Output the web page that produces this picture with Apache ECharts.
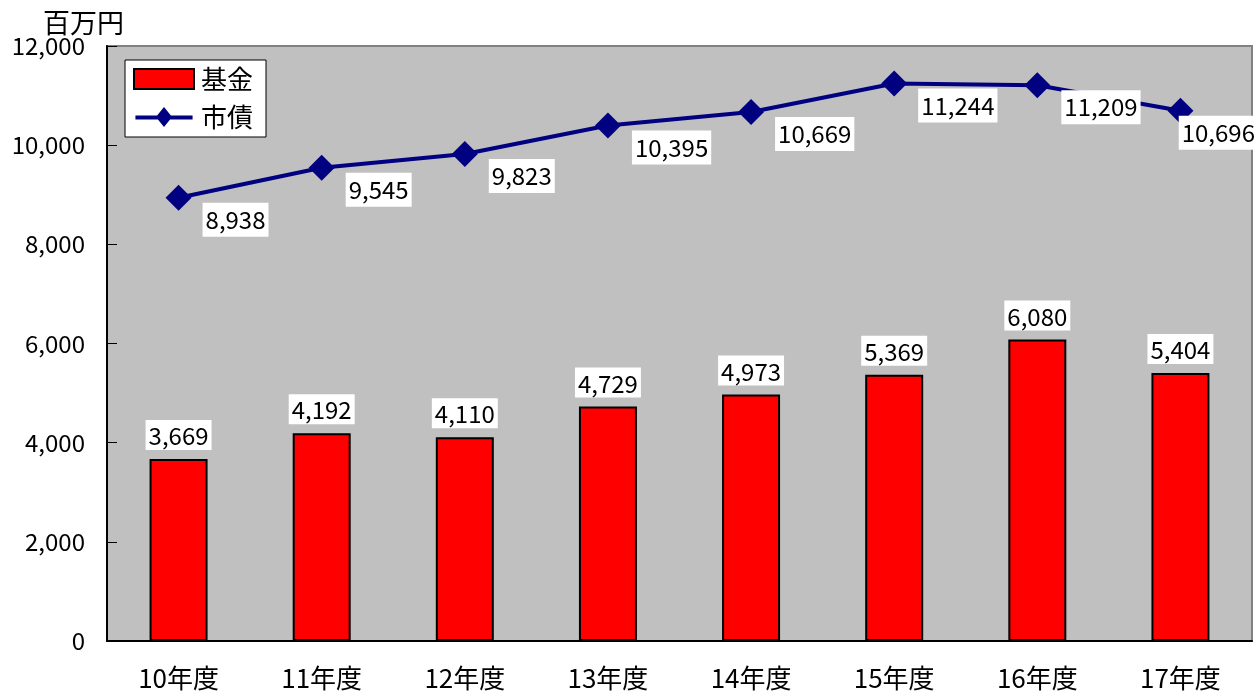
<!DOCTYPE html>
<html>
<head>
<meta charset="utf-8">
<script src="https://cdn.jsdelivr.net/npm/echarts@6/dist/echarts.min.js"></script>
<style>
  html, body { margin: 0; padding: 0; background: #fff; }
  #chart { width: 1258px; height: 692px; }
</style>
</head>
<body>
<div id="chart"></div>
<script>
// 年度別の基金残高と市債残高（単位：百万円）
const categories = ['10年度', '11年度', '12年度', '13年度', '14年度', '15年度', '16年度', '17年度'];
const fundValues = [3669, 4192, 4110, 4729, 4973, 5369, 6080, 5404];
const bondValues = [8938, 9545, 9823, 10395, 10669, 11244, 11209, 10696];
const yTicks = [0, 2000, 4000, 6000, 8000, 10000, 12000];

const FONT = '"Noto Sans CJK JP", "Noto Sans", sans-serif';
const fmt = v => v.toLocaleString('en-US');

// 凡例用アイコン：太線＋ひし形
const LINE_ICON = 'path://M0,9 L60,9 L60,13 L0,13 Z M30,0 L38.5,10.5 L30,21 L21.5,10.5 Z';

const chart = echarts.init(document.getElementById('chart'), null, { renderer: 'canvas' });

chart.setOption({
  backgroundColor: '#ffffff',
  animation: false,
  textStyle: { fontFamily: FONT, color: '#000' },
  grid: {
    left: 107, right: 6, top: 46, bottom: 51,
    show: true,
    backgroundColor: '#c0c0c0',
    borderColor: '#808080',
    borderWidth: 2
  },
  title: {
    text: '百万円',
    left: 38, top: 4,
    textStyle: { fontFamily: FONT, fontSize: 27, fontWeight: 'normal', color: '#000' }
  },
  legend: {
    left: 125, top: 60,
    orient: 'vertical',
    backgroundColor: '#ffffff',
    borderColor: '#000',
    borderWidth: 1,
    padding: [5, 13, 6, 8],
    itemGap: 10,
    itemWidth: 60,
    itemHeight: 20,
    textStyle: { fontFamily: FONT, fontSize: 26, lineHeight: 28, color: '#000', padding: [0, 0, 0, 2] },
    data: [
      { name: '基金', icon: 'rect' },
      { name: '市債', icon: LINE_ICON }
    ]
  },
  xAxis: {
    type: 'category',
    data: categories,
    axisLine: { lineStyle: { color: '#000', width: 2 } },
    axisTick: { inside: true, length: 8, lineStyle: { color: '#000', width: 1 } },
    axisLabel: { fontFamily: FONT, fontSize: 26, color: '#000', margin: 24 }
  },
  yAxis: {
    type: 'value',
    min: 0, max: 12000, interval: 2000,
    axisLine: { show: true, lineStyle: { color: '#000', width: 2 } },
    axisTick: { show: true, inside: true, length: 10, lineStyle: { color: '#000', width: 1 } },
    splitLine: { show: false },
    axisLabel: {
      fontFamily: FONT, fontSize: 24, color: '#000', margin: 22,
      formatter: v => yTicks.includes(v) ? fmt(v) : ''
    }
  },
  series: [
    {
      name: '基金',
      type: 'bar',
      data: fundValues,
      barWidth: 58,
      itemStyle: { color: '#ff0000', borderColor: '#000', borderWidth: 2 },
      label: {
        show: true,
        position: 'top',
        distance: 9,
        formatter: p => fmt(p.value),
        fontFamily: FONT, fontSize: 24, color: '#000',
        backgroundColor: '#ffffff',
        padding: [4, 3, 2, 3]
      }
    },
    {
      name: '市債',
      type: 'line',
      data: bondValues,
      symbol: 'diamond',
      symbolSize: 26,
      lineStyle: { color: '#000080', width: 4 },
      itemStyle: { color: '#000080' },
      label: {
        show: true,
        position: 'right',
        distance: 11,
        formatter: p => fmt(p.value),
        fontFamily: FONT, fontSize: 24, color: '#000',
        backgroundColor: '#ffffff',
        padding: [5, 3, 5, 3]
      },
      // ラベルは点の右下に置き、右端ではみ出さないよう左へ寄せる
      labelLayout: function (params) {
        const r = params.labelRect;
        const maxX = chart.getWidth() - r.width;
        return { x: Math.min(r.x, maxX), dy: 5 };
      }
    }
  ]
});
</script>
</body>
</html>
